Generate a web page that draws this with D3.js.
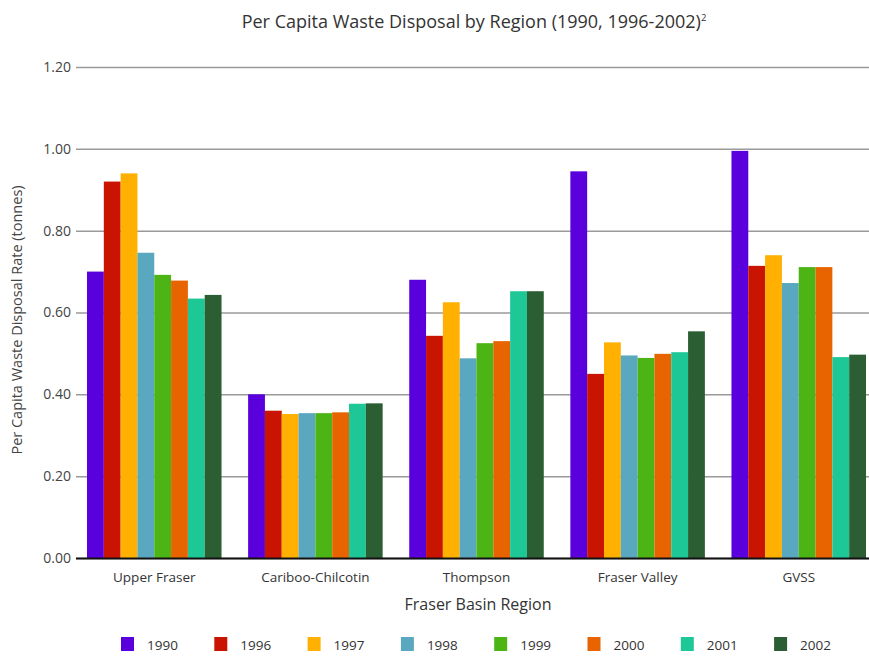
<!DOCTYPE html>
<html>
<head>
<meta charset="utf-8">
<script src="https://cdn.jsdelivr.net/npm/d3@7"></script>
<style>
  html, body { margin: 0; padding: 0; background: #fff; }
  svg { display: block; font-family: "Open Sans", "DejaVu Sans", sans-serif; }
</style>
</head>
<body>
<svg id="chart" width="869" height="656"></svg>
<script>
// Fraser Basin regions and reporting years
const regions = ["Upper Fraser", "Cariboo-Chilcotin", "Thompson", "Fraser Valley", "GVSS"];
const years = ["1990", "1996", "1997", "1998", "1999", "2000", "2001", "2002"];

// Per capita waste disposal (tonnes), one array per year, in region order
const v1990 = [0.70, 0.40, 0.68, 0.945, 0.995];
const v1996 = [0.92, 0.36, 0.543, 0.45, 0.714];
const v1997 = [0.94, 0.352, 0.625, 0.527, 0.74];
const v1998 = [0.746, 0.354, 0.488, 0.495, 0.672];
const v1999 = [0.692, 0.354, 0.525, 0.489, 0.711];
const v2000 = [0.678, 0.356, 0.53, 0.499, 0.711];
const v2001 = [0.634, 0.377, 0.652, 0.503, 0.491];
const v2002 = [0.643, 0.378, 0.652, 0.554, 0.497];
const seriesValues = [v1990, v1996, v1997, v1998, v1999, v2000, v2001, v2002];

const yTicks = [0, 0.2, 0.4, 0.6, 0.8, 1.0, 1.2];
const yearColors = ["#5a00dc", "#c81400", "#ffb000", "#5aa8c0", "#4cb414", "#e86400", "#1ec896", "#2c5e34"];

const svg = d3.select("#chart");
const baseY = 558, topY = 67, gridLeft = 76, rightEdge = 869;

const y = d3.scaleLinear().domain([0, 1.2]).range([baseY, topY]);
const x0 = d3.scaleBand().domain(regions).range([87, 866]).paddingInner(0.165).paddingOuter(0);
const x1 = d3.scaleBand().domain(years).range([0, x0.bandwidth()]).padding(0);
const color = d3.scaleOrdinal().domain(years).range(yearColors);

// Title
const title = svg.append("text")
  .attr("x", 474).attr("y", 28)
  .attr("text-anchor", "middle")
  .attr("font-size", 18)
  .attr("fill", "#333");
title.append("tspan").text("Per Capita Waste Disposal by Region (1990, 1996-2002)");
title.append("tspan").attr("font-size", 9.5).attr("dy", -7).text("2");

// Horizontal gridlines with tick labels
const yAxis = d3.axisLeft(y).tickValues(yTicks).tickFormat(d3.format(".2f"))
  .tickSize(-(rightEdge - gridLeft)).tickPadding(5);
const gAxis = svg.append("g").attr("transform", `translate(${gridLeft},0)`).call(yAxis);
gAxis.select(".domain").remove();
gAxis.selectAll(".tick line").attr("stroke", "#9a9a9a").attr("stroke-width", 1.5);
gAxis.selectAll(".tick text").attr("font-size", 14).attr("fill", "#444")
  .attr("font-family", "\"Open Sans\", sans-serif");

// Bars
const rows = regions.map((r, i) => ({ region: r, vals: years.map((yr, j) => ({ year: yr, value: seriesValues[j][i] })) }));
const groups = svg.append("g").selectAll("g").data(rows).join("g")
  .attr("transform", d => `translate(${x0(d.region)},0)`);
groups.selectAll("rect").data(d => d.vals).join("rect")
  .attr("x", d => x1(d.year))
  .attr("y", d => y(d.value))
  .attr("width", x1.bandwidth())
  .attr("height", d => y(0) - y(d.value))
  .attr("fill", d => color(d.year));

// Baseline
svg.append("line")
  .attr("x1", gridLeft).attr("x2", rightEdge)
  .attr("y1", y(0) + 0.5).attr("y2", y(0) + 0.5)
  .attr("stroke", "#111").attr("stroke-width", 2.2);

// Region labels
svg.append("g").selectAll("text").data(regions).join("text")
  .attr("x", d => x0(d) + x0.bandwidth() / 2)
  .attr("y", 582)
  .attr("text-anchor", "middle")
  .attr("font-size", 13.5)
  .attr("fill", "#333")
  .text(d => d);

// Axis titles
svg.append("text")
  .attr("x", 478).attr("y", 610)
  .attr("text-anchor", "middle")
  .attr("font-size", 16)
  .attr("fill", "#333")
  .text("Fraser Basin Region");

svg.append("text")
  .attr("transform", "translate(22,320) rotate(-90)")
  .attr("text-anchor", "middle")
  .attr("font-size", 14.5)
  .attr("fill", "#444")
  .text("Per Capita Waste Disposal Rate (tonnes)");

// Legend
const legend = svg.append("g").selectAll("g").data(years).join("g")
  .attr("transform", (d, i) => `translate(${121 + i * 93.3},637)`);
legend.append("rect").attr("width", 13).attr("height", 14).attr("fill", d => color(d));
legend.append("text").attr("x", 26).attr("y", 12.5).attr("font-size", 13.5).attr("fill", "#333").text(d => d);
</script>
</body>
</html>
